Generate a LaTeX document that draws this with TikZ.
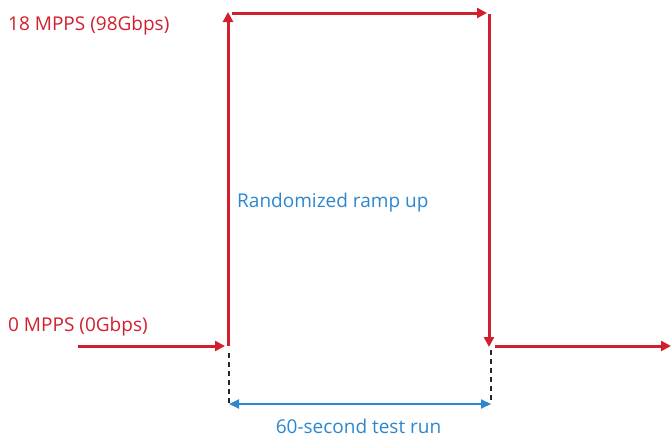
\documentclass[tikz,border=0pt]{standalone}
\usepackage{fontspec}
\setmainfont{Open Sans}
\usetikzlibrary{arrows.meta}
\definecolor{flowred}{HTML}{D21F2D}
\definecolor{labelblue}{HTML}{2C87CF}
\tikzset{
  x=1pt, y=-1pt,
  redarrow/.style={draw=flowred, line width=3pt, -{Triangle[length=10pt,width=10pt]}},
  guide/.style={draw=black!85, line width=1.3pt, dash pattern=on 5pt off 4pt},
  span/.style={draw=labelblue, line width=2pt, {Triangle[length=10pt,width=9pt]}-{Triangle[length=10pt,width=9pt]}},
  redtext/.style={text=flowred, font=\fontsize{19}{22}\selectfont, inner sep=0pt, anchor=west},
  bluetext/.style={text=labelblue, font=\fontsize{19}{22}\selectfont, inner sep=0pt},
}
\begin{document}
\begin{tikzpicture}
\useasboundingbox (0,0) rectangle (671,439);
% corner points of the traffic profile
\coordinate (inL) at (78,346);
\coordinate (upB) at (228,346);
\coordinate (upT) at (228,12);
\coordinate (topL) at (232,13);
\coordinate (topR) at (487,13);
\coordinate (dnT) at (489,14);
\coordinate (dnB) at (489,347);
\coordinate (outL) at (495,346);
\coordinate (outR) at (671,346);
\coordinate (gL1) at (229,353);
\coordinate (gL2) at (229,404);
\coordinate (gR1) at (491,350);
\coordinate (gR2) at (491,404);

% traffic profile
\draw[redarrow] (inL) -- ([xshift=-3pt]upB);
\draw[redarrow] (upB) -- (upT);
\draw[redarrow] (topL) -- (topR);
\draw[redarrow] (dnT) -- (dnB);
\draw[redarrow] (outL) -- (outR);

% test window markers
\draw[guide] (gL1) -- (gL2);
\draw[guide] (gR1) -- (gR2);
\draw[span] (gL2) -- (gR2);

% labels
\node[redtext] (hi) at (8,26) {18 MPPS (98Gbps)};
\node[redtext] (lo) at (8,327) {0 MPPS (0Gbps)};
\node[bluetext, anchor=west] (ramp) at (237,203) {Randomized ramp up};
\node[bluetext] (run) at (358.5,426) {60-second test run};
\end{tikzpicture}
\end{document}
